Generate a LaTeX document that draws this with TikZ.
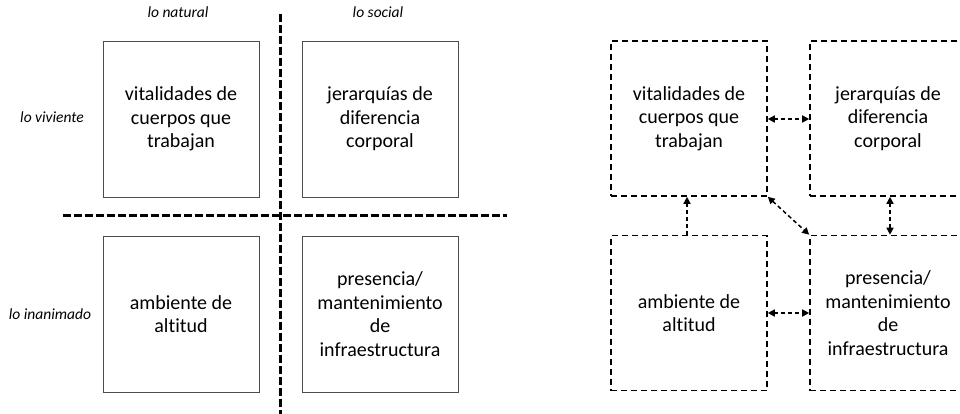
\documentclass[tikz,border=0pt]{standalone}
\usepackage{fontspec}
\setmainfont{Carlito}[Ligatures={NoCommon}]
\usetikzlibrary{arrows.meta}
\begin{document}
\begin{tikzpicture}[x=1pt,y=-1pt,
  solidbox/.style={draw=black!70,line width=1pt,minimum width=156pt,minimum height=156pt,inner sep=0pt,align=center,font=\fontsize{20}{23.5}\selectfont},
  dashbox/.style={draw=black,line width=1.6pt,dash pattern=on 6pt off 4pt,minimum width=156pt,minimum height=155pt,inner sep=0pt,align=center,font=\fontsize{20}{23.5}\selectfont},
  divider/.style={draw=black,line width=3pt,dash pattern=on 7.5pt off 3.5pt},
  axislabel/.style={font=\fontsize{15.5}{17}\selectfont\itshape},
  link/.style={draw=black,line width=1.5pt,dash pattern=on 4pt off 3pt,-{Triangle[length=7pt,width=7pt]}},
  dlink/.style={link,{Triangle[length=7pt,width=7pt]}-{Triangle[length=7pt,width=7pt]}}
]
\useasboundingbox (0,0) rectangle (960,413);
\clip (0,0) rectangle (960,413);
\fill[white] (0,0) rectangle (960,413);
% left panel
\coordinate (vtop) at (280,14);
\coordinate (vbot) at (280,415);
\coordinate (hl) at (63,215);
\coordinate (hr) at (507,215);
\draw[divider] (vtop) -- (vbot);
\draw[divider] (hl) -- (hr);
\node[axislabel] (nat) at (178,12) {lo natural};
\node[axislabel] (soc) at (378,12) {lo social};
\node[axislabel] (viv) at (52,117) {lo viviente};
\node[axislabel] (ina) at (50,314) {lo inanimado};
\node[solidbox] (a1) at (181,119) {vitalidades de\\cuerpos que\\trabajan};
\node[solidbox] (a2) at (380,119) {jerarquías de\\diferencia\\corporal};
\node[solidbox] (a3) at (181,314) {ambiente de\\altitud};
\node[solidbox] (a4) at (380,314) {presencia/\\mantenimiento\\de\\infraestructura};
% right panel
\node[dashbox] (b1) at (689,118.5) {vitalidades de\\cuerpos que\\trabajan};
\node[dashbox] (b2) at (888,118.5) {jerarquías de\\diferencia\\corporal};
\node[dashbox] (b3) at (689,313) {ambiente de\\altitud};
\node[dashbox] (b4) at (888,313) {presencia/\\mantenimiento\\de\\infraestructura};
\draw[dlink] (b1.east |- 0,119) -- (b2.west |- 0,119);
\draw[dlink] (b3.east |- 0,313) -- (b4.west |- 0,313);
\draw[link] (687,0 |- b3.north) -- (687,0 |- b1.south);
\draw[dlink] (890,0 |- b2.south) -- (890,0 |- b4.north);
\draw[dlink] (b1.south east) -- (b4.north west);
\end{tikzpicture}
\end{document}
